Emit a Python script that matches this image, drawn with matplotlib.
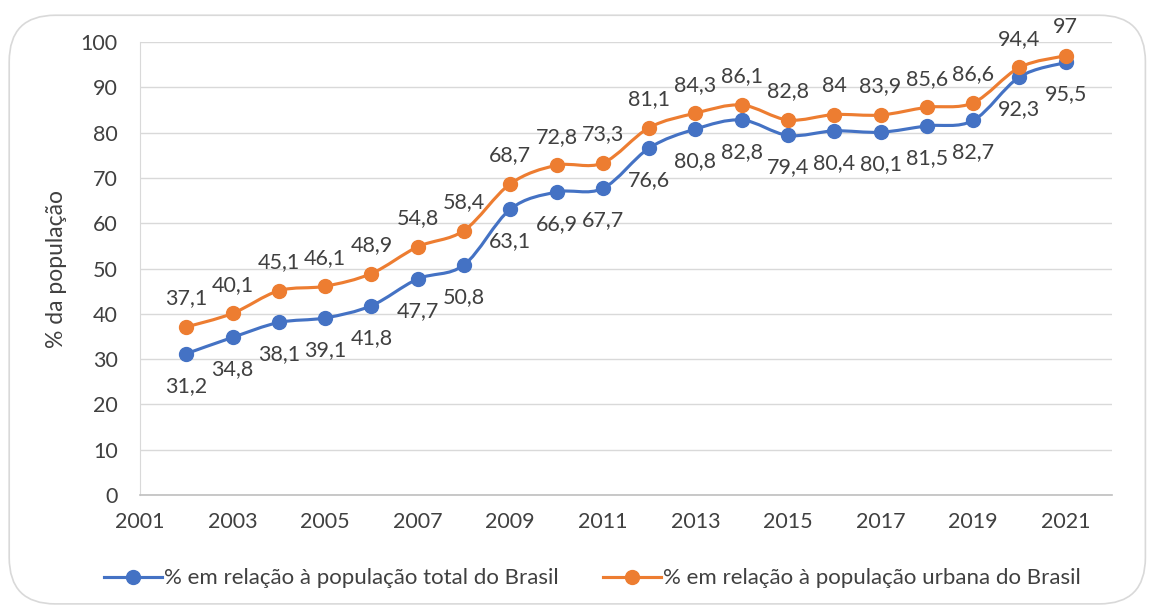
import matplotlib
matplotlib.use("Agg")
import matplotlib.pyplot as plt
from matplotlib.path import Path
from matplotlib.patches import PathPatch, FancyBboxPatch
from matplotlib.lines import Line2D

plt.rcParams["font.family"] = ["Lato", "DejaVu Sans"]

years = list(range(2002, 2022))
total = [31.2, 34.8, 38.1, 39.1, 41.8, 47.7, 50.8, 63.1, 66.9, 67.7,
         76.6, 80.8, 82.8, 79.4, 80.4, 80.1, 81.5, 82.7, 92.3, 95.5]
urbana = [37.1, 40.1, 45.1, 46.1, 48.9, 54.8, 58.4, 68.7, 72.8, 73.3,
          81.1, 84.3, 86.1, 82.8, 84.0, 83.9, 85.6, 86.6, 94.4, 97.0]
labels = ["% em relação à população total do Brasil",
          "% em relação à população urbana do Brasil"]

BLUE = "#4472C4"
ORANGE = "#ED7D31"
TEXT = "#404040"


def smooth_path(xs, ys):
    # Excel-style smoothed line: cubic Bezier segments through the points
    verts = [(xs[0], ys[0])]
    codes = [Path.MOVETO]
    n = len(xs)
    for i in range(n - 1):
        x0, y0 = (xs[i - 1], ys[i - 1]) if i > 0 else (xs[i], ys[i])
        x3, y3 = (xs[i + 2], ys[i + 2]) if i + 2 < n else (xs[i + 1], ys[i + 1])
        c1 = (xs[i] + (xs[i + 1] - x0) / 6, ys[i] + (ys[i + 1] - y0) / 6)
        c2 = (xs[i + 1] - (x3 - xs[i]) / 6, ys[i + 1] - (y3 - ys[i]) / 6)
        verts += [c1, c2, (xs[i + 1], ys[i + 1])]
        codes += [Path.CURVE4] * 3
    return Path(verts, codes)


def fmt(v):
    s = f"{v:.1f}".replace(".", ",")
    return s[:-2] if s.endswith(",0") else s


fig = plt.figure(figsize=(11.5, 6.1), dpi=100)
fig.patches.append(FancyBboxPatch((0.008, 0.01), 0.988, 0.965,
                                  boxstyle="round,pad=0,rounding_size=0.04",
                                  transform=fig.transFigure, facecolor="white",
                                  edgecolor="#D9D9D9", linewidth=1.2,
                                  mutation_aspect=1.9, zorder=-1))
ax = fig.add_axes([0.1217, 0.1885, 0.8453, 0.7425])
ax.set_facecolor("none")

for vals, color, above in [(total, BLUE, False), (urbana, ORANGE, True)]:
    ax.add_patch(PathPatch(smooth_path(years, vals), facecolor="none",
                           edgecolor=color, linewidth=2.25, zorder=3))
    ax.plot(years, vals, linestyle="none", marker="o", markersize=10,
            color=color, zorder=4)
    for x, v in zip(years, vals):
        ax.annotate(fmt(v), (x, v), xytext=(0, 20.5 if above else -23),
                    textcoords="offset points", ha="center", va="center",
                    fontsize=15.5, color=TEXT, zorder=5)

ax.set_xlim(2001, 2022)
ax.set_ylim(0, 100)
ax.set_xticks(range(2001, 2022, 2))
ax.set_yticks(range(0, 101, 10))
ax.grid(axis="y", color="#D9D9D9", linewidth=1)
ax.set_axisbelow(True)
for side in ["top", "right"]:
    ax.spines[side].set_visible(False)
ax.spines["left"].set_color("#D9D9D9")
ax.spines["bottom"].set_color("#BFBFBF")
ax.spines["bottom"].set_linewidth(1.2)
ax.tick_params(length=0, labelsize=15.5, labelcolor=TEXT)
ax.tick_params(axis="y", pad=16)
ax.tick_params(axis="x", pad=12)
ax.set_ylabel("% da população", fontsize=16.5, color=TEXT, labelpad=10)

handles = [Line2D([], [], color=BLUE, marker="o", markersize=10, linewidth=2.25),
           Line2D([], [], color=ORANGE, marker="o", markersize=10, linewidth=2.25)]
fig.legend(handles, labels, loc="center", bbox_to_anchor=(0.515, 0.052),
           ncol=2, frameon=False, fontsize=16, handlelength=2.6,
           handletextpad=0.1, columnspacing=2.0, labelcolor=TEXT)

fig.savefig("out.png", dpi=100)
